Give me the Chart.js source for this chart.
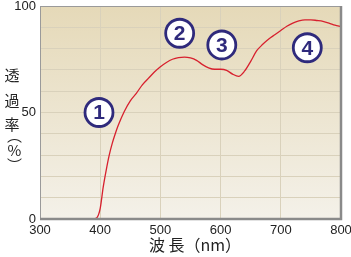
<!DOCTYPE html>
<html>
<head>
<meta charset="utf-8">
<script src="https://cdn.jsdelivr.net/npm/chart.js@4/dist/chart.umd.min.js"></script>
<style>
  body { margin: 0; background: #fff; }
  #wrap { position: relative; width: 351px; height: 257px; }
  .yt {
    position: absolute; left: 2px; width: 20px; text-align: center;
    font: 15px "Noto Sans CJK JP"; color: #222; line-height: 16px;
  }
  #ypct {
    position: absolute; left: 3px; top: 135px; width: 20px;
    writing-mode: vertical-rl; text-orientation: upright;
    font: 15px "Noto Sans CJK JP"; color: #222; line-height: 18px;
    font-feature-settings: "vhal" 1;
  }
  #xtitle {
    position: absolute; left: 0; width: 390px; top: 234px; text-align: center;
    font: 16px "Noto Sans CJK JP"; color: #222; line-height: 20px;
  }
</style>
</head>
<body>
<div id="wrap">
  <canvas id="chart" width="351" height="257"></canvas>
  <div class="yt" style="top:67px">透</div>
  <div class="yt" style="top:92px">過</div>
  <div class="yt" style="top:116px">率</div>
  <div id="ypct">（%）</div>
  <div id="xtitle">波 長（nm）</div>
</div>
<script>
// 波長 (nm) と透過率 (%)
const wavelengths = [300, 320, 340, 360, 380, 390, 395, 400, 405, 410, 415, 420, 425, 430, 440, 450, 460, 470, 480, 490,
  500, 510, 520, 530, 540, 550, 560, 570, 580, 590, 600, 610, 620, 630, 640, 650, 660, 670, 680, 690,
  700, 710, 720, 730, 740, 750, 760, 770, 780, 790, 800];
const transmittance = [0, 0, 0, 0, 0, 0.1, 0.8, 5, 15, 23, 30, 35.5, 40, 44, 50.5, 55.5, 59, 63, 66, 69,
  71.5, 73.5, 75, 75.8, 76, 75.6, 74.5, 72.5, 71, 70.3, 70.3, 69.8, 68, 67, 69.5, 74, 79, 82, 84.5, 86.5,
  88.5, 90.5, 92, 93, 93.5, 93.5, 93.2, 92.8, 92, 91, 90.3];
const xTicks = [300, 400, 500, 600, 700, 800];
const yLabels = [0, 50, 100];
const markerLabels = ['1', '2', '3', '4'];
const markerX = [398, 532, 602, 744];
const markerY = [50, 87.2, 81.7, 80.4];

const points = wavelengths.map((w, i) => ({ x: w, y: transmittance[i] }));

// 背景のグラデーションと枠線
const plotDeco = {
  id: 'plotDeco',
  beforeDraw(chart) {
    const { ctx, chartArea: a } = chart;
    const g = ctx.createLinearGradient(0, a.top, 0, a.bottom);
    g.addColorStop(0, '#e5d9b8');
    g.addColorStop(1, '#f4f1e9');
    ctx.save();
    ctx.fillStyle = g;
    ctx.fillRect(a.left, a.top, a.right - a.left, a.bottom - a.top);
    ctx.restore();
  },
  afterDraw(chart) {
    const { ctx, chartArea: a, scales } = chart;
    ctx.save();
    ctx.strokeStyle = '#9a9a9a';
    ctx.lineWidth = 1;
    ctx.strokeRect(a.left + 0.5, a.top + 0.5, a.right - a.left - 1, a.bottom - a.top - 1);
    ctx.strokeStyle = '#8a8a8a';
    ctx.lineWidth = 2.5;
    ctx.beginPath();
    ctx.moveTo(a.right, a.top);
    ctx.lineTo(a.right, a.bottom);
    ctx.lineTo(a.left, a.bottom);
    ctx.stroke();

    // 丸数字
    markerLabels.forEach((t, i) => {
      const x = scales.x.getPixelForValue(markerX[i]);
      const y = scales.y.getPixelForValue(markerY[i]);
      ctx.beginPath();
      ctx.arc(x, y, 14, 0, Math.PI * 2);
      ctx.fillStyle = '#ffffff';
      ctx.fill();
      ctx.lineWidth = 2.8;
      ctx.strokeStyle = '#2f2a7c';
      ctx.stroke();
      ctx.fillStyle = '#2f2a7c';
      ctx.font = 'bold 21px "Liberation Sans"';
      ctx.textAlign = 'center';
      ctx.textBaseline = 'middle';
      ctx.fillText(t, x, y + 1);
    });
    ctx.restore();
  }
};

new Chart(document.getElementById('chart'), {
  type: 'line',
  data: {
    datasets: [{
      data: points,
      borderColor: '#d7202e',
      borderWidth: 1.3,
      pointRadius: 0,
      cubicInterpolationMode: 'monotone',
      fill: false
    }]
  },
  options: {
    responsive: false,
    animation: false,
    layout: { padding: { top: 6, right: 10, left: 0, bottom: 0 } },
    plugins: { legend: { display: false }, tooltip: { enabled: false } },
    scales: {
      x: {
        type: 'linear',
        min: 300, max: 800,
        afterBuildTicks: axis => { axis.ticks = xTicks.map(v => ({ value: v })); },
        afterFit: axis => { axis.height = 38; axis.paddingLeft = 0; axis.paddingRight = 0; },
        grid: { color: '#d9d1bb', drawTicks: false },
        border: { display: false },
        ticks: { color: '#222', padding: 4, font: { family: 'Liberation Sans', size: 13 }, maxRotation: 0 }
      },
      y: {
        min: 0, max: 100,
        afterFit: axis => { axis.width = 40; axis.paddingTop = 0; axis.paddingBottom = 0; },
        grid: { color: '#d9d1bb', drawTicks: false },
        border: { display: false },
        ticks: {
          stepSize: 10,
          color: '#222',
          padding: 4,
          font: { family: 'Liberation Sans', size: 13 },
          callback: v => yLabels.includes(v) ? v : ''
        }
      }
    }
  },
  plugins: [plotDeco]
});
</script>
</body>
</html>
